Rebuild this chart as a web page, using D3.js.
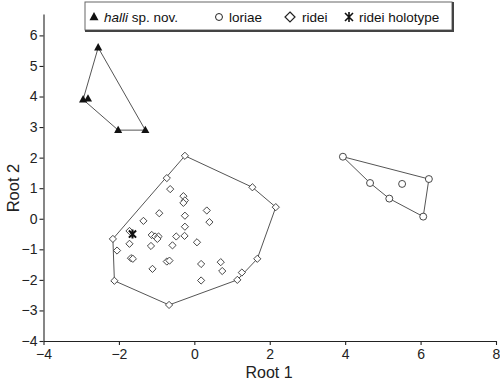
<!DOCTYPE html>
<html>
<head>
<meta charset="utf-8">
<script src="https://d3js.org/d3.v7.min.js"></script>
<style>
  body { margin: 0; background: white; }
  svg { font-family: "Liberation Sans", Arial, sans-serif; }
</style>
</head>
<body>
<svg width="500" height="381"></svg>
<script>
// discriminant scores (Root 1, Root 2)
var halli = [[-2.55, 5.6], [-2.95, 3.9], [-2.82, 3.93], [-2.02, 2.9], [-1.30, 2.9]];
var loriae = [[3.94, 2.03], [4.66, 1.17], [5.17, 0.66], [5.51, 1.14], [6.22, 1.30], [6.07, 0.07]];
var ridei = [
  [-0.25, 2.06], [-0.73, 1.33], [-0.64, 0.97], [-0.29, 0.74], [-0.25, 0.60], [-0.29, 0.52],
  [-0.93, 0.18], [-0.25, 0.10], [0.33, 0.27], [-1.35, -0.07], [0.40, -0.11], [-0.25, -0.26],
  [1.54, 1.03], [2.16, 0.38], [-1.72, -0.40], [-2.16, -0.66], [-1.13, -0.53], [-1.04, -0.58],
  [-0.95, -0.58], [-0.98, -0.66], [-0.48, -0.58], [-0.26, -0.56], [0.07, -0.77], [-1.72, -0.82],
  [-1.15, -0.89], [-0.58, -0.87], [-2.05, -1.04], [-1.68, -1.29], [-1.63, -1.31], [-0.73, -1.40],
  [-0.66, -1.37], [-1.11, -1.64], [0.18, -1.48], [0.70, -1.42], [0.74, -1.71], [0.18, -2.02],
  [1.26, -1.76], [1.14, -2.00], [1.67, -1.31], [-2.12, -2.03], [-0.67, -2.82]
];
var holotype = [[-1.64, -0.50]];
var xTicks = [-4, -2, 0, 2, 4, 6, 8];
var yTicks = [-4, -3, -2, -1, 0, 1, 2, 3, 4, 5, 6];

var svg = d3.select("svg");
var xs = d3.scaleLinear().domain([-4, 8]).range([43.5, 496]);
var ys = d3.scaleLinear().domain([-4, 6.7]).range([341, 14]);
var minus = function(d) { return String(d).replace("-", "\u2212"); };

// axes
var xAxis = svg.append("g")
    .attr("transform", "translate(0,341)")
    .call(d3.axisBottom(xs).tickValues(xTicks).tickFormat(minus).tickSize(4).tickSizeOuter(0));
var yAxis = svg.append("g")
    .attr("transform", "translate(43.5,0)")
    .call(d3.axisLeft(ys).tickValues(yTicks).tickFormat(minus).tickSize(4).tickSizeOuter(0));
[xAxis, yAxis].forEach(function(a) {
  a.selectAll("path, line").attr("stroke", "#222").attr("stroke-width", 1.1);
  a.selectAll("text").attr("fill", "#222").style("font-size", "14px")
   .style("font-family", "Liberation Sans, Arial, sans-serif");
});
xAxis.selectAll("text").attr("dy", "0.82em");
yAxis.selectAll("text").attr("x", -6);

svg.append("text").attr("x", 269).attr("y", 377.5)
   .attr("text-anchor", "middle").style("font-size", "16px").attr("fill", "#222").text("Root 1");
svg.append("text").attr("transform", "translate(19,188) rotate(-90)")
   .attr("text-anchor", "middle").style("font-size", "16.5px").attr("fill", "#222").text("Root 2");

// convex hulls round each group
var hullLine = d3.line().x(function(d) { return xs(d[0]); }).y(function(d) { return ys(d[1]); })
                        .curve(d3.curveLinearClosed);
[halli, loriae, ridei].forEach(function(g) {
  svg.append("path").attr("d", hullLine(d3.polygonHull(g)))
     .attr("fill", "none").attr("stroke", "#555").attr("stroke-width", 1);
});

// marker shapes
function tri(s) { return "M0," + (-s) + "L" + (s * 0.9) + "," + (s * 0.65) + "L" + (-s * 0.9) + "," + (s * 0.65) + "Z"; }
function diam(s) { return "M0," + (-s) + "L" + s + ",0L0," + s + "L" + (-s) + ",0Z"; }
function star(s) {
  var a = s * 0.8;
  return "M0," + (-s) + "L0," + s + "M" + (-a) + "," + (-a) + "L" + a + "," + a + "M" + a + "," + (-a) + "L" + (-a) + "," + a;
}
var circ = d3.symbol().type(d3.symbolCircle).size(38);

function pos(d) { return "translate(" + xs(d[0]) + "," + ys(d[1]) + ")"; }

svg.append("g").selectAll("path").data(ridei).enter().append("path")
   .attr("transform", pos).attr("d", diam(3.6))
   .attr("fill", "white").attr("stroke", "#333").attr("stroke-width", 0.9);
svg.append("g").selectAll("path").data(loriae).enter().append("path")
   .attr("transform", pos).attr("d", circ())
   .attr("fill", "white").attr("stroke", "#333").attr("stroke-width", 0.9);
svg.append("g").selectAll("path").data(halli).enter().append("path")
   .attr("transform", pos).attr("d", tri(4.5)).attr("fill", "#111");
svg.append("g").selectAll("path").data(holotype).enter().append("path")
   .attr("transform", pos).attr("d", star(4.5))
   .attr("fill", "none").attr("stroke", "#111").attr("stroke-width", 2);

// legend
var lg = svg.append("g");
lg.append("rect").attr("x", 85).attr("y", 2).attr("width", 367).attr("height", 28)
  .attr("fill", "white").attr("stroke", "#666").attr("stroke-width", 1);
lg.append("path").attr("d", "M85,31L453,31L453,2").attr("fill", "none")
  .attr("stroke", "#444").attr("stroke-width", 2);
var ly = 17;
lg.append("path").attr("transform", "translate(94," + ly + ")").attr("d", tri(5)).attr("fill", "#111");
var ht = lg.append("text").attr("x", 104).attr("y", ly + 5).style("font-size", "13.5px").attr("fill", "#111");
ht.append("tspan").style("font-style", "italic").text("halli");
ht.append("tspan").text(" sp. nov.");
lg.append("path").attr("transform", "translate(219," + ly + ")").attr("d", circ())
  .attr("fill", "white").attr("stroke", "#222").attr("stroke-width", 1);
lg.append("text").attr("x", 229).attr("y", ly + 5).style("font-size", "13.5px").attr("fill", "#111").text("loriae");
lg.append("path").attr("transform", "translate(290," + ly + ")").attr("d", diam(5))
  .attr("fill", "white").attr("stroke", "#222").attr("stroke-width", 1.2);
lg.append("text").attr("x", 302).attr("y", ly + 5).style("font-size", "13.5px").attr("fill", "#111").text("ridei");
lg.append("path").attr("transform", "translate(349," + ly + ")").attr("d", star(5))
  .attr("fill", "none").attr("stroke", "#111").attr("stroke-width", 1.6);
lg.append("text").attr("x", 359).attr("y", ly + 5).style("font-size", "13.5px").attr("fill", "#111").text("ridei holotype");
</script>
</body>
</html>
